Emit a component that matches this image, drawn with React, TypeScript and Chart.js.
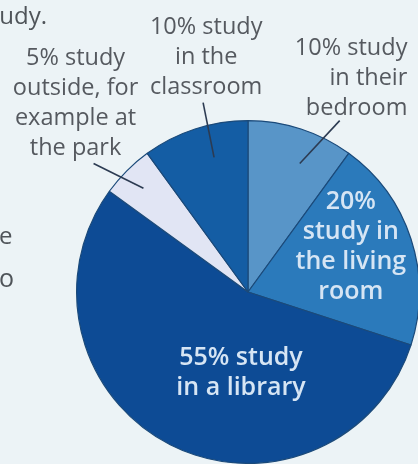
import React, { useEffect, useRef } from "react";
import { Chart, registerables } from "chart.js";

Chart.register(...registerables);

// ---- data ----
const categories = ["bedroom", "living room", "library", "outside", "classroom"];
const shares = [10, 20, 55, 5, 10];
const labelLines = [
  ["10% study", "in their", "bedroom"],
  ["20%", "study in", "the living", "room"],
  ["55% study", "in a library"],
  ["5% study", "outside, for", "example at", "the park"],
  ["10% study", "in the", "classroom"],
];
const bodyFragments = ["study.", "e", "o"];

// ---- styles / layout ----
const sliceColors = ["#5895c8", "#2b7abb", "#0d4b95", "#e1e5f4", "#145da4"];
const FONT = '"Open Sans", "Noto Sans", sans-serif';
const LINE = 30;
// positions relative to pie centre, in units of radius
const labelLayout = [
  { inside: false, align: "right", x: 0.93, y: -1.424, leader: [[0.302, -0.75], [0.535, -1.0]] },
  { inside: true, align: "center", x: 0.6, y: -0.523, leader: null },
  { inside: true, align: "center", x: -0.041, y: 0.384, leader: null },
  { inside: false, align: "center", x: -1.006, y: -1.366, leader: [[-0.61, -0.605], [-0.901, -0.75]] },
  { inside: false, align: "center", x: -0.244, y: -1.547, leader: [[-0.198, -0.785], [-0.262, -1.105]] },
];

const labelPlugin = {
  id: "pieLabels",
  beforeDraw(chart: any) {
    const { ctx, width, height } = chart;
    ctx.save();
    ctx.fillStyle = "#ecf3f6";
    ctx.fillRect(0, 0, width, height);
    ctx.restore();
  },
  afterDatasetsDraw(chart: any) {
    const { ctx } = chart;
    const meta = chart.getDatasetMeta(0);
    const arc = meta.data[0];
    const cx = arc.x;
    const cy = arc.y;
    const r = arc.outerRadius;
    ctx.save();
    // leader lines
    ctx.strokeStyle = "#2c3b52";
    ctx.lineWidth = 1.6;
    labelLayout.forEach((l) => {
      if (!l.leader) return;
      ctx.beginPath();
      ctx.moveTo(cx + l.leader[0][0] * r, cy + l.leader[0][1] * r);
      ctx.lineTo(cx + l.leader[1][0] * r, cy + l.leader[1][1] * r);
      ctx.stroke();
    });
    // labels
    ctx.textBaseline = "middle";
    labelLines.forEach((lines, i) => {
      const l = labelLayout[i];
      ctx.textAlign = l.align;
      ctx.font = l.inside ? `600 25px ${FONT}` : `23.5px ${FONT}`;
      ctx.fillStyle = l.inside ? "#d6e5f4" : "#55595f";
      lines.forEach((t, j) => {
        ctx.fillText(t, cx + l.x * r, cy + l.y * r + j * LINE);
      });
    });
    // cut-off body text at the left edge
    ctx.fillStyle = "#4f5459";
    ctx.textBaseline = "alphabetic";
    ctx.font = `24px ${FONT}`;
    ctx.textAlign = "right";
    ctx.fillText(bodyFragments[0], 47, 24);
    ctx.textAlign = "left";
    ctx.fillText(bodyFragments[1], -1, 244);
    ctx.font = `25px ${FONT}`;
    ctx.fillText(bodyFragments[2], -1, 287);
    ctx.restore();
  },
};

export default function App() {
  const ref = useRef<HTMLCanvasElement>(null);
  useEffect(() => {
    if (!ref.current) return;
    const chart = new Chart(ref.current, {
      type: "pie",
      data: {
        labels: categories,
        datasets: [
          {
            data: shares,
            backgroundColor: sliceColors,
            borderColor: "#1b4a7a",
            borderWidth: 1.2,
          },
        ],
      },
      options: {
        responsive: false,
        animation: false,
        layout: { padding: { left: 76, right: 20, top: 120, bottom: 0 } },
        plugins: { legend: { display: false }, tooltip: { enabled: false } },
      },
      plugins: [labelPlugin],
    });
    return () => chart.destroy();
  }, []);
  return (
    <div style={{ position: "fixed", left: 0, top: 0, width: 418, height: 464, overflow: "hidden", background: "#ecf3f6" }}>
      <canvas ref={ref} width={440} height={464} style={{ display: "block", width: 440, height: 464 }} />
    </div>
  );
}
